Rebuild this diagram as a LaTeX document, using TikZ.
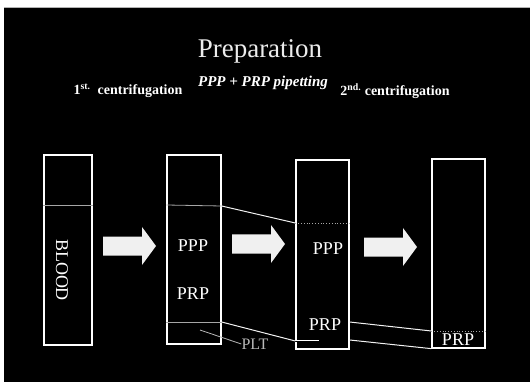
\documentclass[tikz,border=0pt]{standalone}
\usepackage{fontspec}
\setmainfont{Liberation Serif}
\begin{document}
\begin{tikzpicture}[x=1pt, y=-1pt]
      \tikzset{tube/.style={draw=white, line width=1.3pt, inner sep=0pt},
               layer/.style={gray!70, line width=0.8pt},
               link/.style={white!90!gray, line width=1pt},
               tubetext/.style={white, inner sep=0pt, font=\fontsize{18}{18}\selectfont},
               headtext/.style={white, inner sep=0pt, anchor=base},
               blockarrow/.style={fill=white!88!gray, draw=none}}

      \useasboundingbox (0,0) rectangle (530,382);
      \fill[white] (0,0) rectangle (530,382);
      \fill[black] (4,7) rectangle (530,382);
      \draw[gray!60, line width=0.8pt] (4,7) -- (530,7);

      \node[headtext, gray!15, font=\fontsize{27}{27}\selectfont] (title) at (260,58) {Preparation};
      \node[headtext, font=\fontsize{15}{15}\selectfont\bfseries\itshape] (pipet) at (263,87) {PPP + PRP pipetting};
      \node[headtext, font=\fontsize{14}{14}\selectfont\bfseries] (cent1) at (128,95) {1\textsuperscript{st.}\ \ centrifugation};
      \node[headtext, font=\fontsize{14}{14}\selectfont\bfseries] (cent2) at (395,96) {2\textsuperscript{nd.} centrifugation};

      % tubes
      \node[tube, minimum width=48pt, minimum height=190pt] (t1) at (68,250) {};
      \node[tube, minimum width=54pt, minimum height=189pt] (t2) at (194,249.5) {};
      \node[tube, minimum width=53pt, minimum height=189pt] (t3) at (322.5,254.5) {};
      \node[tube, minimum width=53pt, minimum height=189pt] (t4) at (458.5,253.5) {};

      \coordinate (a1) at (t2.east |- 0,206);
      \coordinate (b1) at (t3.west |- 0,223);
      \coordinate (a2) at (t2.east |- 0,322);
      \coordinate (b2) at (t3.west |- 0,341);
      \coordinate (a3) at (t3.east |- 0,322);
      \coordinate (b3) at (t4.west |- 0,331);
      \coordinate (a4) at (t3.east |- 0,340);
      \coordinate (b4) at (t4.south west);

      \draw[layer] (t1.west |- 0,205) -- (t1.east |- 0,205);
      \draw[layer] (t2.west |- 0,205) -- (a1);
      \draw[layer] (t2.west |- 0,322) -- (a2);
      \draw[layer, dotted] (b1) -- (t3.east |- 0,223);
      \draw[white, line width=0.8pt, double=black, double distance=0.6pt] (b2) -- ++(24,0);
      \draw[layer, dotted] (b3) -- (t4.east |- 0,331);

      \draw[link] (a1) -- (b1);
      \draw[link] (a2) -- (b2);
      \draw[link] (a3) -- (b3);
      \draw[link] (a4) -- (b4);

      \node[tubetext, rotate=-90] (blood) at (62,270) {BLOOD};
      \node[tubetext] (ppp2) at (193,246) {PPP};
      \node[tubetext] (prp2) at (193,294) {PRP};
      \node[tubetext] (ppp3) at (328,249) {PPP};
      \node[tubetext] (prp3) at (325,325) {PRP};
      \node[tubetext] (prp4) at (458,340) {PRP};

      \node[tubetext, gray!55, font=\fontsize{16}{16}\selectfont] (plt) at (255,344) {PLT};
      \coordinate (pltlead) at (200,330);
      \draw[gray!55, line width=0.8pt] (pltlead) -- (plt.west);

      \foreach \ax/\ay in {103/246, 232/244, 364/247} {
          \fill[blockarrow] (\ax,\ay-9.5) -- (\ax+39,\ay-9.5) -- (\ax+39,\ay-19)
              -- (\ax+53,\ay) -- (\ax+39,\ay+19) -- (\ax+39,\ay+9.5) -- (\ax,\ay+9.5) -- cycle;
          }
\end{tikzpicture}
\end{document}
